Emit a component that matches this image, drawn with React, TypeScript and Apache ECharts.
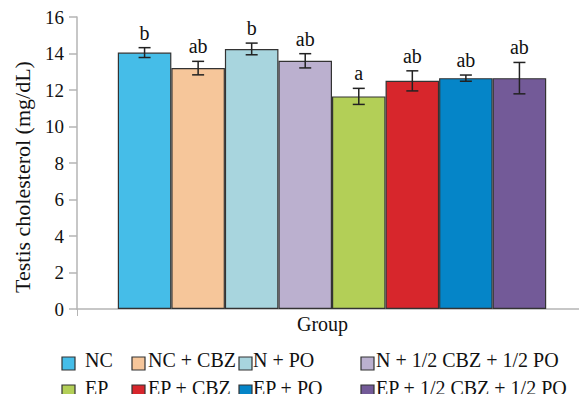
import React, { useEffect, useRef } from "react";
import * as echarts from "echarts";

const groups = [
  "NC",
  "NC + CBZ",
  "N + PO",
  "N + 1/2 CBZ + 1/2 PO",
  "EP",
  "EP + CBZ",
  "EP + PO",
  "EP + 1/2 CBZ + 1/2 PO",
];
const means = [14.05, 13.2, 14.25, 13.6, 11.65, 12.5, 12.65, 12.65];
const errors = [0.27, 0.37, 0.32, 0.39, 0.44, 0.55, 0.17, 0.86];
const letters = ["b", "ab", "b", "ab", "a", "ab", "ab", "ab"];
const colors = [
  "#45BDE8",
  "#F6C69A",
  "#A8D5DE",
  "#BBB0CF",
  "#B3CF57",
  "#D7262C",
  "#0585C8",
  "#735A98",
];
const categories = ["Group"];
const yTicks = { min: 0, max: 16, interval: 2 };

const FONT = "'Liberation Serif', 'Times New Roman', serif";
const GAP = 0.16;

const legendCols = [62, 132, 239, 361];
const legendTextDx = [23, 16, 14, 15];
const legendRows = [357, 385];

export default function App() {
  const ref = useRef<HTMLDivElement>(null);
  useEffect(() => {
    if (!ref.current) return;
    const chart = echarts.init(ref.current, null, { renderer: "svg" });
    const n = groups.length;
    const barSeries = groups.map((g, i) => ({
      name: g,
      type: "bar",
      data: [means[i]],
      barGap: "0%",
      barCategoryGap: GAP * 100 + "%",
      itemStyle: { color: colors[i], borderColor: "#333", borderWidth: 1.2 },
    }));
    const errSeries = {
      type: "custom",
      z: 10,
      data: means.map((m, i) => [0, m, errors[i], i]),
      encode: { x: 0, y: 1 },
      renderItem: (params: any, api: any) => {
        const idx = api.value(3);
        const mean = api.value(1);
        const err = api.value(2);
        const c = api.coord([0, mean]);
        const catW = api.size([1, 0])[0];
        const bw = (catW * (1 - GAP)) / n;
        const x = c[0] + (idx - (n - 1) / 2) * bw;
        const yTop = api.coord([0, mean + err])[1];
        const yBot = api.coord([0, mean - err])[1];
        const cap = 6;
        const ls = { stroke: "#222", lineWidth: 1.5 };
        return {
          type: "group",
          children: [
            { type: "line", shape: { x1: x, y1: yTop, x2: x, y2: yBot }, style: ls },
            { type: "line", shape: { x1: x - cap, y1: yTop, x2: x + cap, y2: yTop }, style: ls },
            { type: "line", shape: { x1: x - cap, y1: yBot, x2: x + cap, y2: yBot }, style: ls },
            {
              type: "text",
              style: {
                text: letters[idx],
                x: x,
                y: yTop - 5,
                align: "center",
                verticalAlign: "bottom",
                fill: "#111",
                fontSize: 20,
                fontFamily: FONT,
              },
            },
          ],
        };
      },
    };
    // legend drawn as graphic elements for exact placement
    const legendGraphics: any[] = [];
    groups.forEach((g, i) => {
      const col = i % 4;
      const row = Math.floor(i / 4);
      const x = legendCols[col];
      const y = legendRows[row];
      legendGraphics.push({
        type: "rect",
        shape: { x: x, y: y, width: 13, height: 13 },
        style: { fill: colors[i], stroke: "#333", lineWidth: 1.2 },
      });
      legendGraphics.push({
        type: "text",
        x: x + legendTextDx[col],
        y: y - 7,
        style: {
          text: g,
          align: "left",
          verticalAlign: "top",
          fill: "#111",
          fontSize: 20,
          fontFamily: FONT,
        },
      });
    });
    chart.setOption({
      animation: false,
      grid: { left: 77, right: 0, top: 17, bottom: 93 },
      xAxis: {
        type: "category",
        data: categories,
        axisLine: { lineStyle: { color: "#b5b5b5", width: 1.5 } },
        axisTick: { show: true, length: 7, lineStyle: { color: "#b5b5b5" } },
        axisLabel: {
          color: "#111",
          fontSize: 20,
          fontFamily: FONT,
          margin: 5,
          padding: [0, 19, 0, 0],
        },
      },
      yAxis: {
        type: "value",
        min: yTicks.min,
        max: yTicks.max,
        interval: yTicks.interval,
        splitLine: { show: false },
        axisLine: { show: true, lineStyle: { color: "#b5b5b5", width: 1.5 } },
        axisTick: { show: true, length: 8, lineStyle: { color: "#b5b5b5", width: 1.5 } },
        axisLabel: { color: "#111", fontSize: 19, fontFamily: FONT, margin: 13 },
      },
      graphic: [
        {
          type: "text",
          x: 22,
          y: 177,
          rotation: Math.PI / 2,
          style: {
            text: "Testis cholesterol (mg/dL)",
            align: "center",
            verticalAlign: "middle",
            fill: "#111",
            fontSize: 22,
            fontFamily: FONT,
          },
        },
        ...legendGraphics,
      ],
      series: [...barSeries, errSeries],
    });
    return () => chart.dispose();
  }, []);
  return <div ref={ref} style={{ width: 587, height: 402, margin: -8 }} />;
}
